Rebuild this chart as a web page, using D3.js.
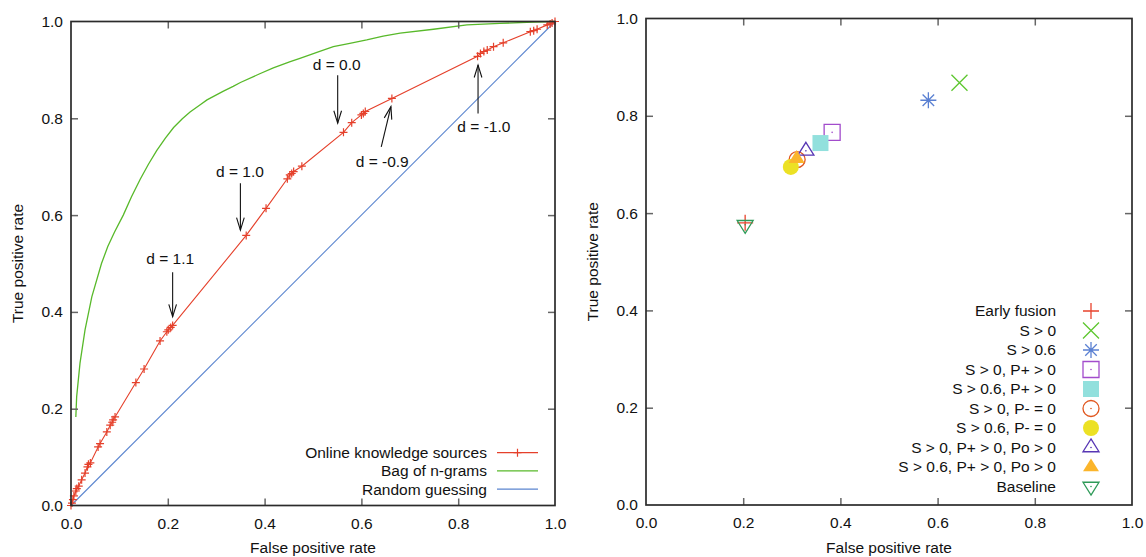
<!DOCTYPE html>
<html lang="en">
<head>
<meta charset="utf-8">
<title>ROC comparison</title>
<script src="https://cdnjs.cloudflare.com/ajax/libs/d3/7.8.5/d3.min.js"></script>
<style>
    body { margin: 0; background: #fff; }
    svg text { font-family: "Liberation Sans", Arial, Helvetica, sans-serif; font-size: 15.5px; fill: #111; }
    .border { fill: none; stroke: #2b2b2b; stroke-width: 1.7; }
    .tick line { stroke: #666; stroke-width: 1.5; }
</style>
</head>
<body>
<svg id="chart" width="1146" height="557"></svg>
<script>
// ---- data ----
var tickValues = [0, 0.2, 0.4, 0.6, 0.8, 1.0];

// ROC of the online knowledge sources classifier (thresholds d)
var onlineFpr = [0, 0.002, 0.004, 0.006, 0.010, 0.012, 0.016, 0.022, 0.029, 0.034, 0.036, 0.040,
                 0.056, 0.060, 0.074, 0.081, 0.085, 0.087, 0.091, 0.134, 0.151, 0.184, 0.198, 0.201,
                 0.206, 0.210, 0.362, 0.403, 0.447, 0.452, 0.456, 0.460, 0.477, 0.563, 0.580, 0.600,
                 0.604, 0.608, 0.663, 0.840, 0.846, 0.853, 0.860, 0.873, 0.893, 0.949, 0.956, 0.963,
                 0.984, 0.990, 0.994, 1.0];
var onlineTpr = [0, 0.005, 0.012, 0.020, 0.030, 0.035, 0.040, 0.053, 0.067, 0.080, 0.085, 0.088,
                 0.121, 0.128, 0.152, 0.166, 0.172, 0.177, 0.183, 0.254, 0.282, 0.340, 0.359, 0.363,
                 0.368, 0.372, 0.558, 0.614, 0.675, 0.683, 0.686, 0.690, 0.701, 0.771, 0.791, 0.807,
                 0.810, 0.814, 0.841, 0.928, 0.934, 0.938, 0.941, 0.948, 0.956, 0.979, 0.981, 0.984,
                 0.993, 0.995, 0.997, 1.0];

// ROC of the bag of n-grams classifier
var ngramFpr = [0.010, 0.0117, 0.0186, 0.029, 0.043, 0.063, 0.076, 0.090, 0.108, 0.125, 0.143, 0.160,
                0.177, 0.195, 0.212, 0.230, 0.246, 0.267, 0.281, 0.315, 0.335, 0.350, 0.390, 0.418,
                0.453, 0.473, 0.508, 0.542, 0.576, 0.611, 0.645, 0.680, 0.749, 0.818, 0.886, 0.955, 1.0];
var ngramTpr = [0.183, 0.225, 0.294, 0.363, 0.431, 0.500, 0.535, 0.565, 0.600, 0.638, 0.674, 0.705,
                0.733, 0.759, 0.781, 0.799, 0.813, 0.828, 0.838, 0.856, 0.866, 0.874, 0.892, 0.904,
                0.917, 0.924, 0.936, 0.948, 0.955, 0.962, 0.970, 0.976, 0.984, 0.993, 0.996, 0.999, 1.0];

var randomFpr = [0, 1];
var randomTpr = [0, 1];

// threshold labels on the left plot
var noteLabels = ["d = 1.1", "d = 1.0", "d = 0.0", "d = -0.9", "d = -1.0"];
var noteTextX  = [0.205, 0.349, 0.549, 0.643, 0.853];
var noteTextY  = [0.510, 0.690, 0.910, 0.710, 0.783];
var arrowFromX = [0.210, 0.350, 0.551, 0.641, 0.841];
var arrowFromY = [0.482, 0.666, 0.889, 0.741, 0.810];
var arrowToX   = [0.210, 0.350, 0.551, 0.661, 0.841];
var arrowToY   = [0.390, 0.569, 0.790, 0.824, 0.910];

// right plot: fusion variants
var methodNames = ["Early fusion", "S > 0", "S > 0.6", "S > 0, P+ > 0", "S > 0.6, P+ > 0",
                   "S > 0, P- = 0", "S > 0.6, P- = 0", "S > 0, P+ > 0, Po > 0",
                   "S > 0.6, P+ > 0, Po > 0", "Baseline"];
var methodFpr = [0.204, 0.645, 0.581, 0.383, 0.359, 0.311, 0.298, 0.329, 0.310, 0.204];
var methodTpr = [0.580, 0.868, 0.832, 0.766, 0.744, 0.710, 0.695, 0.728, 0.712, 0.576];

// ---- styles ----
var methodShape = ["plus", "cross", "star", "box", "fbox", "circle", "fcircle", "tri", "ftri", "dtri"];
var methodColor = ["#e8432d", "#5cc62e", "#5a80d2", "#a24ccc", "#92e0dd", "#e0561e",
                   "#ece124", "#5736b4", "#fbb52b", "#2e9a58"];
var redLine = "#e5402b", greenLine = "#58b92a", blueLine = "#5b85cf";

var svg = d3.select("#chart");

function line2(g, x1, y1, x2, y2, color, w) {
    g.append("line").attr("x1", x1).attr("y1", y1).attr("x2", x2).attr("y2", y2)
        .attr("stroke", color).attr("stroke-width", w);
}

// gnuplot-like point symbols
function symbolPath(type, s) {
    var h = s * 1.6;
    switch (type) {
        case "plus": return "M" + (-s) + ",0H" + s + "M0," + (-s) + "V" + s;
        case "cross": return "M" + (-s) + "," + (-s) + "L" + s + "," + s + "M" + (-s) + "," + s + "L" + s + "," + (-s);
        case "star": return symbolPath("plus", s) + symbolPath("cross", s * 0.72);
        case "box": case "fbox": return "M" + (-s) + "," + (-s) + "H" + s + "V" + s + "H" + (-s) + "Z";
        case "circle": case "fcircle":
            return "M" + s + ",0A" + s + "," + s + " 0 1,1 " + (-s) + ",0A" + s + "," + s + " 0 1,1 " + s + ",0Z";
        case "tri": case "ftri":
            return "M0," + (-h * 2 / 3) + "L" + s + "," + (h / 3) + "L" + (-s) + "," + (h / 3) + "Z";
        case "dtri":
            return "M0," + (h * 2 / 3) + "L" + s + "," + (-h / 3) + "L" + (-s) + "," + (-h / 3) + "Z";
    }
}

function drawSymbol(g, type, color, cx, cy, s) {
    var filled = type.charAt(0) === "f";
    var p = g.append("path").attr("d", symbolPath(type, s))
        .attr("transform", "translate(" + cx + "," + cy + ")");
    if (filled) {
        p.attr("fill", color).attr("stroke", "none");
    } else {
        p.attr("fill", "none").attr("stroke", color).attr("stroke-width", 1.3);
        if (["box", "circle", "tri", "dtri"].indexOf(type) > -1) {
            g.append("circle").attr("cx", cx).attr("cy", cy).attr("r", 0.8).attr("fill", color);
        }
    }
}

function frame(g, x, y, xLabel, yLabelX) {
    var fmt = d3.format(".1f");
    g.append("g").attr("transform", "translate(0," + y.range()[0] + ")")
        .call(d3.axisBottom(x).tickValues(tickValues).tickFormat(fmt).tickSizeInner(-7).tickSizeOuter(0).tickPadding(12));
    g.append("g").attr("transform", "translate(0," + y.range()[1] + ")")
        .call(d3.axisTop(x).tickValues(tickValues.slice(1, -1)).tickFormat("").tickSizeInner(-7).tickSizeOuter(0));
    g.append("g").attr("transform", "translate(" + x.range()[0] + ",0)")
        .call(d3.axisLeft(y).tickValues(tickValues).tickFormat(fmt).tickSizeInner(-7).tickSizeOuter(0).tickPadding(8));
    g.append("g").attr("transform", "translate(" + x.range()[1] + ",0)")
        .call(d3.axisRight(y).tickValues(tickValues.slice(1, -1)).tickFormat("").tickSizeInner(-7).tickSizeOuter(0));
    g.selectAll(".domain").remove();
    g.selectAll(".tick text").attr("font-size", null).attr("font-family", null).attr("fill", "#111");
    // drop the end ticks so the border stays clean
    g.selectAll(".tick").filter(function(d) { return d === 0 || d === 1; }).select("line").remove();

    g.append("rect").attr("class", "border")
        .attr("x", x.range()[0]).attr("y", y.range()[1])
        .attr("width", x.range()[1] - x.range()[0]).attr("height", y.range()[0] - y.range()[1]);

    g.append("text").attr("x", (x.range()[0] + x.range()[1]) / 2).attr("y", 553)
        .attr("text-anchor", "middle").text("False positive rate");
    g.append("text").attr("transform", "translate(" + yLabelX + "," + ((y.range()[0] + y.range()[1]) / 2) + ") rotate(-90)")
        .attr("text-anchor", "middle").attr("dy", "0.35em").text("True positive rate");
}

// ---- left plot: ROC curves ----
var xL = d3.scaleLinear().domain([0, 1]).range([71, 555]);
var yL = d3.scaleLinear().domain([0, 1]).range([505.5, 21.5]);
var left = svg.append("g");

var lineL = d3.line().x(function(d) { return xL(d[0]); }).y(function(d) { return yL(d[1]); });

left.append("path").datum(d3.zip(randomFpr, randomTpr)).attr("d", lineL)
    .attr("fill", "none").attr("stroke", blueLine).attr("stroke-width", 1.1);
left.append("path").datum(d3.zip(ngramFpr, ngramTpr)).attr("d", lineL)
    .attr("fill", "none").attr("stroke", greenLine).attr("stroke-width", 1.3);
left.append("path").datum(d3.zip(onlineFpr, onlineTpr)).attr("d", lineL)
    .attr("fill", "none").attr("stroke", redLine).attr("stroke-width", 1.1);
d3.zip(onlineFpr, onlineTpr).forEach(function(d) {
    left.append("path").attr("d", symbolPath("plus", 4))
        .attr("transform", "translate(" + xL(d[0]) + "," + yL(d[1]) + ")")
        .attr("fill", "none").attr("stroke", redLine).attr("stroke-width", 1.2);
});

// threshold annotations
noteLabels.forEach(function(t, i) {
    left.append("text").attr("x", xL(noteTextX[i])).attr("y", yL(noteTextY[i]))
        .attr("dy", "0.35em").attr("text-anchor", "middle").text(t);
    var x1 = xL(arrowFromX[i]), y1 = yL(arrowFromY[i]), x2 = xL(arrowToX[i]), y2 = yL(arrowToY[i]);
    line2(left, x1, y1, x2, y2, "#111", 1.1);
    var a = Math.atan2(y2 - y1, x2 - x1), len = 13, spread = 0.3;
    left.append("path")
        .attr("d", "M" + (x2 - len * Math.cos(a - spread)) + "," + (y2 - len * Math.sin(a - spread)) +
            "L" + x2 + "," + y2 +
            "L" + (x2 - len * Math.cos(a + spread)) + "," + (y2 - len * Math.sin(a + spread)))
        .attr("fill", "none").attr("stroke", "#111").attr("stroke-width", 1.1);
});

frame(left, xL, yL, "False positive rate", 18);

// left legend
var legL = ["Online knowledge sources", "Bag of n-grams", "Random guessing"];
var legLColor = [redLine, greenLine, blueLine];
legL.forEach(function(t, i) {
    var yy = 452.7 + i * 18.2;
    left.append("text").attr("x", 487).attr("y", yy).attr("dy", "0.35em").attr("text-anchor", "end").text(t);
    line2(left, 497, yy, 538, yy, legLColor[i], 1.2);
    if (i === 0) {
        left.append("path").attr("d", symbolPath("plus", 4)).attr("transform", "translate(517.5," + yy + ")")
            .attr("fill", "none").attr("stroke", redLine).attr("stroke-width", 1.2);
    }
});

// ---- right plot: operating points ----
var xR = d3.scaleLinear().domain([0, 1]).range([646, 1132]);
var yR = d3.scaleLinear().domain([0, 1]).range([505, 18.5]);
var right = svg.append("g");

frame(right, xR, yR, "False positive rate", 593);

methodNames.forEach(function(name, i) {
    drawSymbol(right, methodShape[i], methodColor[i], xR(methodFpr[i]), yR(methodTpr[i]), 8);
});

methodNames.forEach(function(name, i) {
    var yy = 311 + i * 19.5;
    right.append("text").attr("x", 1056).attr("y", yy).attr("dy", "0.35em").attr("text-anchor", "end").text(name);
    drawSymbol(right, methodShape[i], methodColor[i], 1091, yy, 8);
});
</script>
</body>
</html>
